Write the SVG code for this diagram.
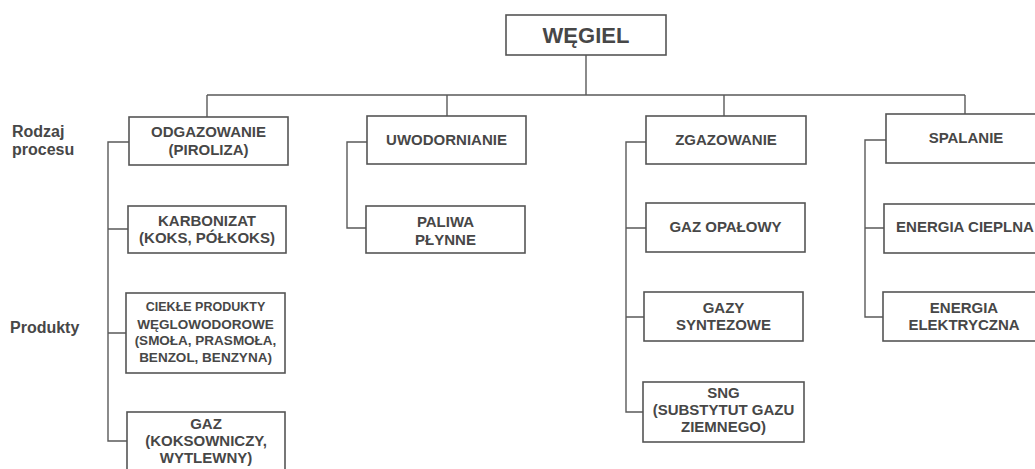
<svg xmlns="http://www.w3.org/2000/svg" width="1035" height="469" viewBox="0 0 1035 469">
  <style>
    .box { fill: #ffffff; stroke: #555555; stroke-width: 1.6; }
    .wire { fill: none; stroke: #5a5a5a; stroke-width: 1.4; }
    .t { font-family: "Liberation Sans", Arial, sans-serif; font-weight: bold; fill: #474747; text-anchor: middle; font-size: 15px; }
    .s { font-size: 13.5px; }
    .xs { font-size: 12.5px; }
    .side { font-family: "Liberation Sans", Arial, sans-serif; font-weight: bold; fill: #474747; font-size: 16px; }
  </style>
  <rect width="1035" height="469" fill="#ffffff"/>

  <!-- row labels -->
  <g id="labels">
    <text class="side" x="12" y="137">Rodzaj</text>
    <text class="side" x="12" y="155">procesu</text>
    <text class="side" x="10" y="333">Produkty</text>
  </g>

  <!-- connectors -->
  <g id="connectors">
    <path class="wire" d="M586 55 V95 M207 95 H965 M207 95 V117 M447 95 V116 M724 95 V116 M965 95 V114"/>
    <path class="wire" d="M129 142 H108 V441 H127 M108 229 H128 M108 333 H126"/>
    <path class="wire" d="M367 142 H347 V228 H366"/>
    <path class="wire" d="M646 142 H626 V412 H643 M626 228 H646 M626 317 H644"/>
    <path class="wire" d="M886 140 H865 V317 H883 M865 228 H884"/>
  </g>

  <g id="wegiel">
    <rect class="box" x="506" y="15" width="160" height="40"/>
    <text class="t" x="586" y="43" style="font-size:22px">WĘGIEL</text>
  </g>

  <!-- processes -->
  <g id="odgazowanie">
    <rect class="box" x="129" y="117" width="159" height="48"/>
    <text class="t" x="208.5" y="137">ODGAZOWANIE</text>
    <text class="t" x="208.5" y="155">(PIROLIZA)</text>
  </g>
  <g id="uwodornianie">
    <rect class="box" x="367" y="116" width="159" height="48"/>
    <text class="t" x="446.5" y="145">UWODORNIANIE</text>
  </g>
  <g id="zgazowanie">
    <rect class="box" x="646" y="116" width="160" height="48"/>
    <text class="t" x="726" y="145">ZGAZOWANIE</text>
  </g>
  <g id="spalanie">
    <rect class="box" x="886" y="114" width="160" height="49"/>
    <text class="t" x="966" y="143">SPALANIE</text>
  </g>

  <!-- products of odgazowanie -->
  <g id="karbonizat">
    <rect class="box" x="128" y="206" width="158" height="47"/>
    <text class="t" x="207" y="226">KARBONIZAT</text>
    <text class="t" x="207" y="243">(KOKS, PÓŁKOKS)</text>
  </g>
  <g id="ciekle">
    <rect class="box" x="126" y="293" width="159" height="80"/>
    <text class="t xs" x="205.5" y="311">CIEKŁE PRODUKTY</text>
    <text class="t s" x="205.5" y="329">WĘGLOWODOROWE</text>
    <text class="t s" x="205.5" y="345">(SMOŁA, PRASMOŁA,</text>
    <text class="t s" x="205.5" y="362">BENZOL, BENZYNA)</text>
  </g>
  <g id="gaz">
    <rect class="box" x="127" y="412" width="158" height="64"/>
    <text class="t" x="206" y="429">GAZ</text>
    <text class="t" x="206" y="446">(KOKSOWNICZY,</text>
    <text class="t" x="206" y="463">WYTLEWNY)</text>
  </g>

  <!-- products of uwodornianie -->
  <g id="paliwa">
    <rect class="box" x="366" y="206" width="159" height="47"/>
    <text class="t" x="445.5" y="227">PALIWA</text>
    <text class="t" x="445.5" y="245">PŁYNNE</text>
  </g>

  <!-- products of zgazowanie -->
  <g id="gaz-opalowy">
    <rect class="box" x="646" y="203" width="159" height="49"/>
    <text class="t" x="725.5" y="232">GAZ OPAŁOWY</text>
  </g>
  <g id="gazy-syntezowe">
    <rect class="box" x="644" y="292" width="159" height="49"/>
    <text class="t" x="723.5" y="313">GAZY</text>
    <text class="t" x="723.5" y="330">SYNTEZOWE</text>
  </g>
  <g id="sng">
    <rect class="box" x="643" y="382" width="161" height="60"/>
    <text class="t" x="723.5" y="398">SNG</text>
    <text class="t" x="723.5" y="415">(SUBSTYTUT GAZU</text>
    <text class="t" x="723.5" y="432">ZIEMNEGO)</text>
  </g>

  <!-- products of spalanie -->
  <g id="energia-cieplna">
    <rect class="box" x="884" y="204" width="162" height="49"/>
    <text class="t" x="965" y="232">ENERGIA CIEPLNA</text>
  </g>
  <g id="energia-elektryczna">
    <rect class="box" x="883" y="292" width="163" height="49"/>
    <text class="t" x="964" y="313">ENERGIA</text>
    <text class="t" x="964" y="330">ELEKTRYCZNA</text>
  </g>
</svg>
